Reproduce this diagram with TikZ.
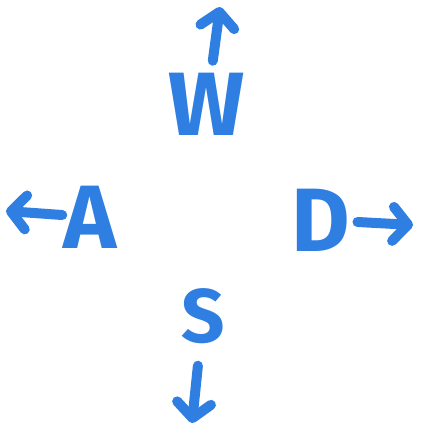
\documentclass[tikz,border=0pt]{standalone}
\usepackage{fontspec}
\setsansfont{Fira Sans}
\usetikzlibrary{arrows.meta}
\definecolor{keyblue}{RGB}{47,126,225}

\begin{document}
\begin{tikzpicture}[x=1pt,y=-1pt,
	key/.style={inner sep=0pt,text=keyblue,font=\sffamily\bfseries\fontsize{90}{90}\selectfont},
	move/.style={draw=keyblue,line width=10pt,line cap=round,line join=round,
		-{Straight Barb[length=15pt,width=34pt,round]}}]
	\useasboundingbox (0,0) rectangle (421,430);
	% the four keys
	\node[key] (w) at (207,104) {W};
	\node[key] (a) at (90,217) {A};
	\node[key] (d) at (321,220) {D};
	\node[key,font=\sffamily\bfseries\fontsize{76}{76}\selectfont] (s) at (203,316) {S};
	% where the arrows point
	\coordinate (up) at (220,7);
	\coordinate (left) at (6,211);
	\coordinate (right) at (413,225);
	\coordinate (down) at (192,423);
	\draw[move,shorten <=12pt] (w) -- (up);
	\draw[move,shorten <=1pt] (a) -- (left);
	\draw[move,shorten <=7pt] (d) -- (right);
	\draw[move,shorten <=22pt] (s) -- (down);
\end{tikzpicture}
\end{document}
